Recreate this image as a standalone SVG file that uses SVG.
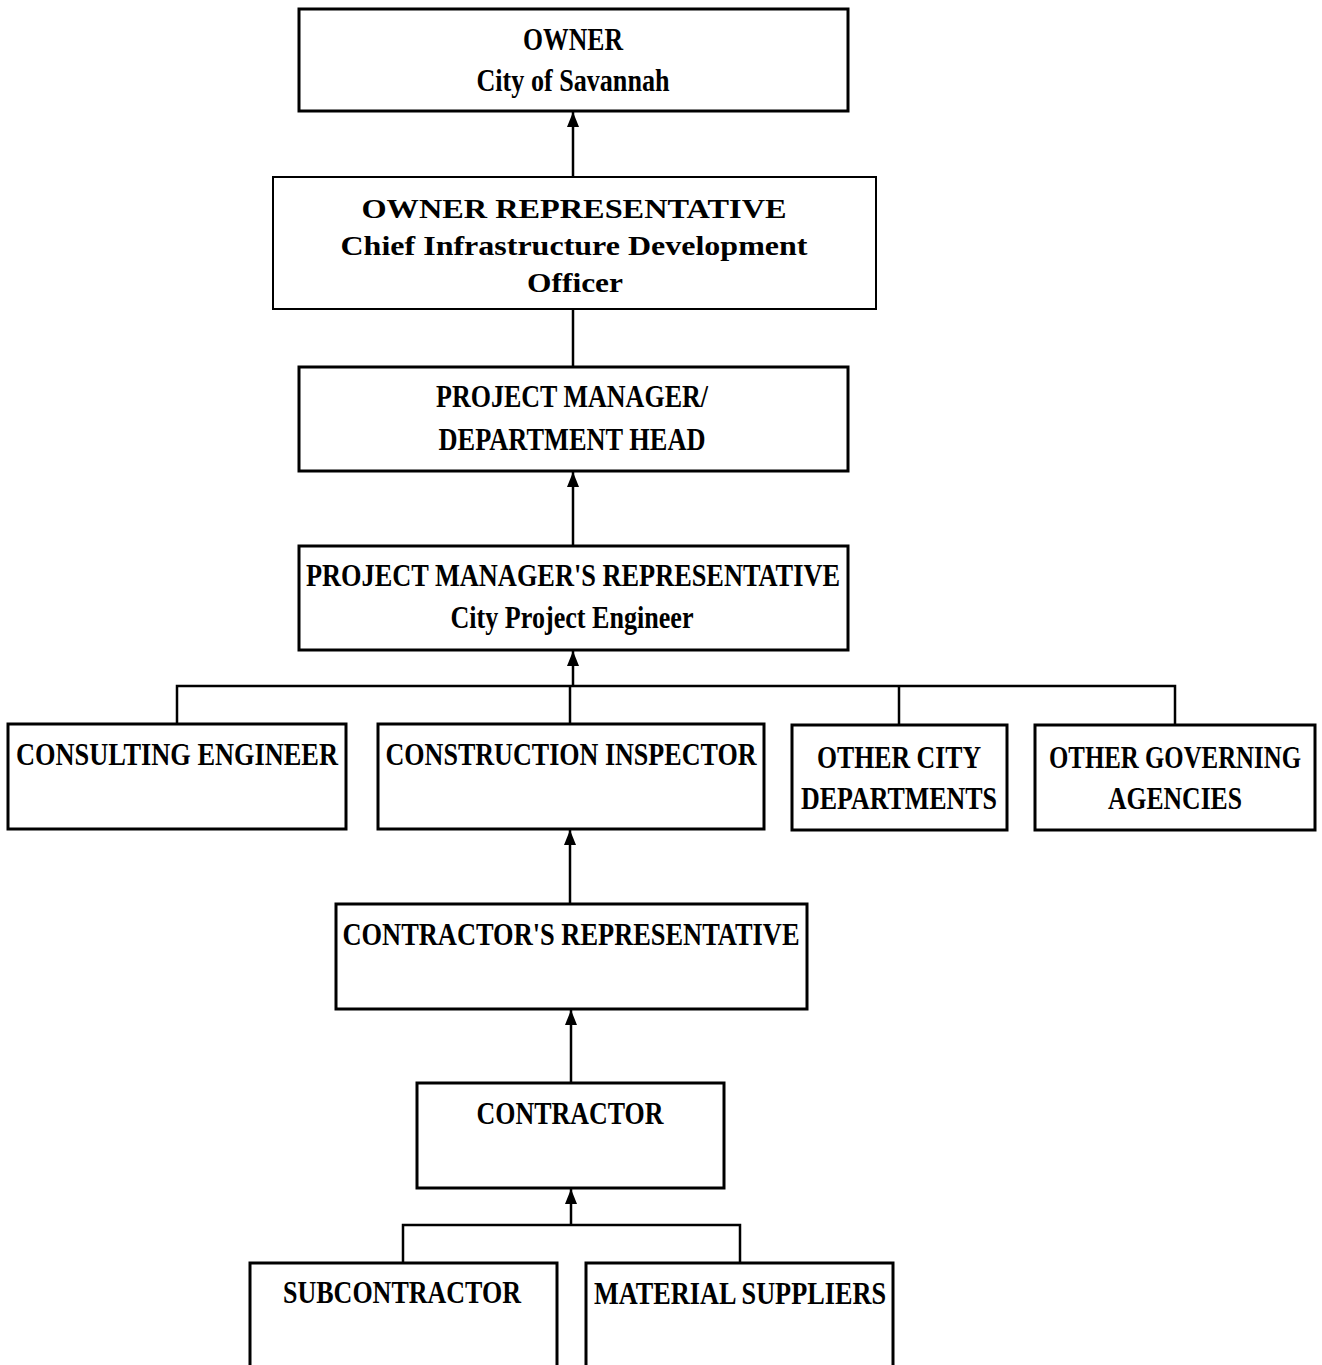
<svg xmlns="http://www.w3.org/2000/svg" width="1322" height="1365" viewBox="0 0 1322 1365">
<style>
.box{fill:#fff;stroke:#000;stroke-width:3}
.thin{stroke-width:2}
.t{font-family:"Liberation Serif","Times New Roman",serif;font-weight:bold;font-size:31px;fill:#000;text-anchor:middle}
.r{font-size:27px}
.c{fill:none;stroke:#000;stroke-width:2.5}
</style>
<defs>
<marker id="ah" markerUnits="userSpaceOnUse" markerWidth="16" markerHeight="12" refX="15" refY="6" orient="auto" viewBox="0 0 16 12">
<path d="M0,0 L15,6 L0,12 Z" fill="#000"/>
</marker>
</defs>
<rect width="1322" height="1365" fill="#fff"/>
<g id="connectors">
<line class="c" x1="573" y1="177" x2="573" y2="112" marker-end="url(#ah)"/>
<line class="c" x1="573" y1="309" x2="573" y2="366"/>
<line class="c" x1="573" y1="545" x2="573" y2="472" marker-end="url(#ah)"/>
<polyline class="c" points="177,724 177,686 1175,686 1175,725"/>
<line class="c" x1="570" y1="686" x2="570" y2="724"/>
<line class="c" x1="899" y1="686" x2="899" y2="725"/>
<line class="c" x1="573" y1="686" x2="573" y2="651" marker-end="url(#ah)"/>
<line class="c" x1="570" y1="904" x2="570" y2="830" marker-end="url(#ah)"/>
<line class="c" x1="571" y1="1083" x2="571" y2="1010" marker-end="url(#ah)"/>
<polyline class="c" points="403,1262 403,1225 740,1225 740,1262"/>
<line class="c" x1="571" y1="1225" x2="571" y2="1189" marker-end="url(#ah)"/>
</g>
<g id="owner">
<rect class="box" x="299" y="9" width="549" height="102"/>
<text class="t" x="573" y="50" textLength="100" lengthAdjust="spacingAndGlyphs">OWNER</text>
<text class="t" x="573" y="91" textLength="193" lengthAdjust="spacingAndGlyphs">City of Savannah</text>
</g>
<g id="owner-rep">
<rect class="box thin" x="273" y="177" width="603" height="132"/>
<text class="t r" x="574" y="218" textLength="425" lengthAdjust="spacingAndGlyphs">OWNER REPRESENTATIVE</text>
<text class="t r" x="574" y="255" textLength="467" lengthAdjust="spacingAndGlyphs">Chief Infrastructure Development</text>
<text class="t r" x="575" y="292" textLength="96" lengthAdjust="spacingAndGlyphs">Officer</text>
</g>
<g id="pm">
<rect class="box" x="299" y="367" width="549" height="104"/>
<text class="t" x="572" y="407" textLength="272" lengthAdjust="spacingAndGlyphs">PROJECT MANAGER/</text>
<text class="t" x="572" y="450" textLength="267" lengthAdjust="spacingAndGlyphs">DEPARTMENT HEAD</text>
</g>
<g id="pmr">
<rect class="box" x="299" y="546" width="549" height="104"/>
<text class="t" x="573" y="586" textLength="534" lengthAdjust="spacingAndGlyphs">PROJECT MANAGER'S REPRESENTATIVE</text>
<text class="t" x="572" y="628" textLength="243" lengthAdjust="spacingAndGlyphs">City Project Engineer</text>
</g>
<g id="consulting">
<rect class="box" x="8" y="724" width="338" height="105"/>
<text class="t" x="177" y="765" textLength="322" lengthAdjust="spacingAndGlyphs">CONSULTING ENGINEER</text>
</g>
<g id="inspector">
<rect class="box" x="378" y="724" width="386" height="105"/>
<text class="t" x="571" y="765" textLength="371" lengthAdjust="spacingAndGlyphs">CONSTRUCTION INSPECTOR</text>
</g>
<g id="city-depts">
<rect class="box" x="792" y="725" width="215" height="105"/>
<text class="t" x="899" y="768" textLength="164" lengthAdjust="spacingAndGlyphs">OTHER CITY</text>
<text class="t" x="899" y="809" textLength="196" lengthAdjust="spacingAndGlyphs">DEPARTMENTS</text>
</g>
<g id="agencies">
<rect class="box" x="1035" y="725" width="280" height="105"/>
<text class="t" x="1175" y="768" textLength="252" lengthAdjust="spacingAndGlyphs">OTHER GOVERNING</text>
<text class="t" x="1175" y="809" textLength="134" lengthAdjust="spacingAndGlyphs">AGENCIES</text>
</g>
<g id="contractor-rep">
<rect class="box" x="336" y="904" width="471" height="105"/>
<text class="t" x="571" y="945" textLength="457" lengthAdjust="spacingAndGlyphs">CONTRACTOR'S REPRESENTATIVE</text>
</g>
<g id="contractor">
<rect class="box" x="417" y="1083" width="307" height="105"/>
<text class="t" x="570" y="1124" textLength="187" lengthAdjust="spacingAndGlyphs">CONTRACTOR</text>
</g>
<g id="subcontractor">
<rect class="box" x="250" y="1263" width="307" height="110"/>
<text class="t" x="402" y="1303" textLength="238" lengthAdjust="spacingAndGlyphs">SUBCONTRACTOR</text>
</g>
<g id="suppliers">
<rect class="box" x="586" y="1263" width="307" height="110"/>
<text class="t" x="740" y="1304" textLength="292" lengthAdjust="spacingAndGlyphs">MATERIAL SUPPLIERS</text>
</g>
</svg>
